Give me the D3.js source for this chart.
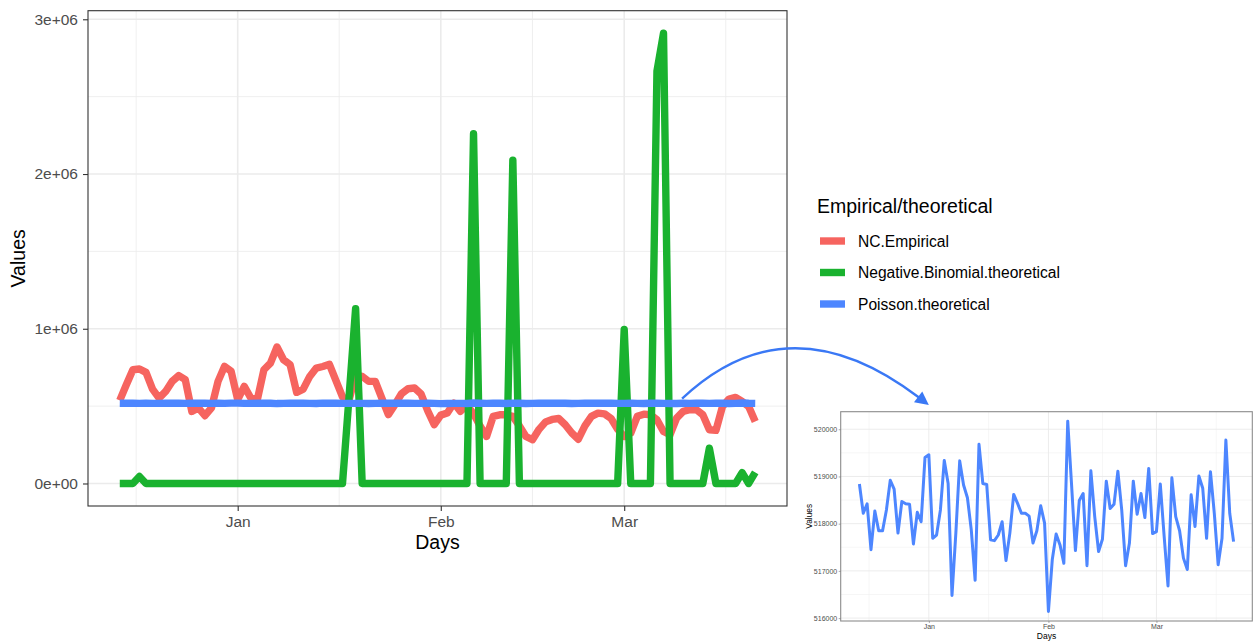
<!DOCTYPE html>
<html><head><meta charset="utf-8">
<script src="https://cdn.jsdelivr.net/npm/d3@7"></script>
<style>
body{margin:0;background:#fff;}
svg{display:block;font-family:"Liberation Sans",Arial,Helvetica,sans-serif;}
</style>
</head><body>
<svg id="chart" width="1253" height="642"></svg>
<script>
// ---------------- DATA ----------------
const startDate = "2020-12-14";   // first day of the series (98 daily points, to 2021-03-21)
const seriesNames = ["NC.Empirical", "Negative.Binomial.theoretical", "Poisson.theoretical"];
const seriesColors = ["#F6645F", "#1AB22F", "#4D86FF"];
const legendTitle = "Empirical/theoretical";

const empirical = [
  537000, 638000, 735000, 740000, 718000, 610000, 552000, 595000, 660000, 697000,
  671000, 466000, 488000, 438000, 488000, 660000, 757000, 725000, 542000, 628000,
  552000, 542000, 735000, 778000, 882000, 800000, 768000, 589000, 610000, 692000,
  746000, 756000, 770000, 665000, 560000, 540000, 700000, 692000, 660000, 660000,
  552000, 445000, 509000, 580000, 612000, 617000, 578000, 470000, 380000, 442000,
  455000, 520000, 466000, 505000, 450000, 372000, 304000, 434000, 444000, 444000,
  434000, 372000, 304000, 283000, 350000, 398000, 414000, 420000, 380000, 326000,
  286000, 372000, 434000, 455000, 450000, 420000, 350000, 304000, 326000, 434000,
  448000, 444000, 412000, 336000, 315000, 423000, 466000, 477000, 477000, 444000,
  347000, 343000, 498000, 546000, 556000, 530000, 498000, 401000
];
const negBinomial = [
  0, 0, 0, 45000, 0, 0, 0, 0, 0, 0,
  0, 0, 0, 0, 0, 0, 0, 0, 0, 0,
  0, 0, 0, 0, 0, 0, 0, 0, 0, 0,
  0, 0, 0, 0, 0, 560000, 1130000, 0, 0, 0,
  0, 0, 0, 0, 0, 0, 0, 0, 0, 0,
  0, 0, 0, 0, 2260000, 0, 0, 0, 0, 0,
  2090000, 0, 0, 0, 0, 0, 0, 0, 0, 0,
  0, 0, 0, 0, 0, 0, 0, 995000, 0, 0,
  0, 0, 2665000, 2910000, 0, 0, 0, 0, 0, 0,
  228000, 0, 0, 0, 0, 70000, 0, 72000
];
const poisson = [
  518840, 518220, 518420, 517450, 518270, 517850, 517850, 518290, 518920, 518730,
  517800, 518470, 518420, 518410, 517570, 518240, 518040, 519400, 519460, 517690,
  517760, 518290, 519340, 518850, 516480, 517800, 519330, 518820, 518550, 517870,
  516800, 519680, 518850, 518830, 517660, 517640, 517760, 518040, 517220, 517800,
  518620, 518430, 518220, 518220, 518160, 517590, 517850, 518380, 518010, 516140,
  517240, 517780, 517550, 517160, 520170, 518820, 517430, 518490, 518640, 517110,
  519120, 518150, 517410, 517670, 518900, 518320, 518410, 519110, 518290, 517110,
  517590, 518900, 518200, 518640, 518130, 519170, 517790, 517830, 518840, 517730,
  516680, 518970, 518150, 517850, 517270, 517030, 518610, 517940, 519010, 518750,
  517690, 519100, 518220, 517130, 517690, 519770, 518220, 517620
];

const monthTicks = ["2021-01-01", "2021-02-01", "2021-03-01"];
const monthTickLabels = ["Jan", "Feb", "Mar"];
const mainYTicks = [0, 1000000, 2000000, 3000000];
const mainYTickLabels = ["0e+00", "1e+06", "2e+06", "3e+06"];
const insetYTicks = [516000, 517000, 518000, 519000, 520000];
const insetYTickLabels = ["516000", "517000", "518000", "519000", "520000"];

// ---------------- SETUP ----------------
const parse = d3.utcParse("%Y-%m-%d");
const d0 = parse(startDate);
const dates = d3.utcDay.range(d0, d3.utcDay.offset(d0, empirical.length));
const tickDates = monthTicks.map(parse);
// ggplot-style minor breaks: midpoints between month boundaries
const monthBounds = d3.utcMonth.range(parse("2020-12-01"), parse("2021-04-02"));
const minorDates = d3.pairs(monthBounds).map(([a, b]) => new Date((+a + +b) / 2));

function expand(ext, f = 0.05) { const r = ext[1] - ext[0]; return [ext[0] - r * f, ext[1] + r * f]; }

const svg = d3.select("#chart");
svg.append("rect").attr("width", 1253).attr("height", 642).attr("fill", "#fff");

const M = { left: 88, right: 787, top: 10.7, bottom: 506 };
const timeExt = expand([+dates[0], +dates[dates.length - 1]]);
const xMain = d3.scaleUtc().domain(timeExt.map(t => new Date(t))).range([M.left, M.right]);
const allVals = empirical.concat(negBinomial, poisson);
const yMain = d3.scaleLinear().domain(expand(d3.extent(allVals))).range([M.bottom, M.top]);

const series = [empirical, negBinomial, poisson];

// ---------------- MAIN PANEL ----------------
const gMain = svg.append("g");
gMain.append("rect").attr("x", M.left).attr("y", M.top)
  .attr("width", M.right - M.left).attr("height", M.bottom - M.top).attr("fill", "#fff");

const yMinor = d3.range(0.5e6, 3.5e6, 1e6).filter(v => v > yMain.domain()[0] && v < yMain.domain()[1]);
const gridG = gMain.append("g");
gridG.selectAll(".ymin").data(yMinor).join("line")
  .attr("x1", M.left).attr("x2", M.right).attr("y1", d => yMain(d)).attr("y2", d => yMain(d))
  .attr("stroke", "#EBEBEB").attr("stroke-width", 0.8);
gridG.selectAll(".xmin").data(minorDates.filter(d => d > xMain.domain()[0] && d < xMain.domain()[1])).join("line")
  .attr("y1", M.top).attr("y2", M.bottom).attr("x1", d => xMain(d)).attr("x2", d => xMain(d))
  .attr("stroke", "#EBEBEB").attr("stroke-width", 0.8);
gridG.selectAll(".ymaj").data(mainYTicks).join("line")
  .attr("x1", M.left).attr("x2", M.right).attr("y1", d => yMain(d)).attr("y2", d => yMain(d))
  .attr("stroke", "#EBEBEB").attr("stroke-width", 1.6);
gridG.selectAll(".xmaj").data(tickDates).join("line")
  .attr("y1", M.top).attr("y2", M.bottom).attr("x1", d => xMain(d)).attr("x2", d => xMain(d))
  .attr("stroke", "#EBEBEB").attr("stroke-width", 1.6);

svg.append("clipPath").attr("id", "clipMain").append("rect")
  .attr("x", M.left).attr("y", M.top).attr("width", M.right - M.left).attr("height", M.bottom - M.top);

const lineMain = d3.line().x((d, i) => xMain(dates[i])).y(d => yMain(d));
gMain.append("g").attr("clip-path", "url(#clipMain)")
  .selectAll("path").data(series).join("path")
  .attr("d", d => lineMain(d))
  .attr("fill", "none")
  .attr("stroke", (d, i) => seriesColors[i])
  .attr("stroke-width", 7.4)
  .attr("stroke-linejoin", "round")
  .attr("stroke-linecap", "butt");

gMain.append("rect").attr("x", M.left).attr("y", M.top)
  .attr("width", M.right - M.left).attr("height", M.bottom - M.top)
  .attr("fill", "none").attr("stroke", "#333333").attr("stroke-width", 1.1);

// axes
const yAxis = d3.axisLeft(yMain).tickValues(mainYTicks)
  .tickFormat((d, i) => mainYTickLabels[i]).tickSize(5).tickPadding(5);
const gy = gMain.append("g").attr("transform", `translate(${M.left},0)`).call(yAxis);
const xAxis = d3.axisBottom(xMain).tickValues(tickDates)
  .tickFormat((d, i) => monthTickLabels[i]).tickSize(5).tickPadding(5);
const gx = gMain.append("g").attr("transform", `translate(0,${M.bottom})`).call(xAxis);
[gy, gx].forEach(g => {
  g.select(".domain").remove();
  g.selectAll(".tick line").attr("stroke", "#333333").attr("stroke-width", 1.1);
  g.selectAll(".tick text").attr("fill", "#4D4D4D").style("font-size", "15.5px")
    .style("font-family", '"Liberation Sans", Arial, sans-serif');
});

svg.append("text").attr("x", (M.left + M.right) / 2).attr("y", 549)
  .attr("text-anchor", "middle").style("font-size", "19.5px").attr("fill", "#000").text("Days");
svg.append("text").attr("transform", `translate(25,${(M.top + M.bottom) / 2}) rotate(-90)`)
  .attr("text-anchor", "middle").style("font-size", "19.5px").attr("fill", "#000").text("Values");

// ---------------- LEGEND ----------------
const lg = svg.append("g");
lg.append("text").attr("x", 817).attr("y", 213).style("font-size", "19.5px").attr("fill", "#000").text(legendTitle);
const keyY = [241, 272.5, 304];
seriesNames.forEach((name, i) => {
  lg.append("line").attr("x1", 820).attr("x2", 845).attr("y1", keyY[i]).attr("y2", keyY[i])
    .attr("stroke", seriesColors[i]).attr("stroke-width", 7.4);
  lg.append("text").attr("x", 858).attr("y", keyY[i] + 5.5).style("font-size", "15.6px")
    .attr("fill", "#000").text(name);
});

// ---------------- INSET ----------------
const I = { left: 840.7, right: 1252.3, top: 411.7, bottom: 621 };
const xIn = d3.scaleUtc().domain(timeExt.map(t => new Date(t))).range([I.left, I.right]);
const yIn = d3.scaleLinear().domain(expand(d3.extent(poisson))).range([I.bottom, I.top]);
const gIn = svg.append("g");
gIn.append("rect").attr("x", I.left).attr("y", I.top).attr("width", I.right - I.left)
  .attr("height", I.bottom - I.top).attr("fill", "#fff");
const inMinorY = d3.range(515500, 521000, 1000).filter(v => v > yIn.domain()[0] && v < yIn.domain()[1]);
gIn.selectAll(".iymin").data(inMinorY).join("line")
  .attr("x1", I.left).attr("x2", I.right).attr("y1", d => yIn(d)).attr("y2", d => yIn(d))
  .attr("stroke", "#F0F0F0").attr("stroke-width", 0.6);
gIn.selectAll(".ixmin").data(minorDates.filter(d => d > xIn.domain()[0] && d < xIn.domain()[1])).join("line")
  .attr("y1", I.top).attr("y2", I.bottom).attr("x1", d => xIn(d)).attr("x2", d => xIn(d))
  .attr("stroke", "#F0F0F0").attr("stroke-width", 0.6);
gIn.selectAll(".iymaj").data(insetYTicks).join("line")
  .attr("x1", I.left).attr("x2", I.right).attr("y1", d => yIn(d)).attr("y2", d => yIn(d))
  .attr("stroke", "#EAEAEA").attr("stroke-width", 0.9);
gIn.selectAll(".ixmaj").data(tickDates).join("line")
  .attr("y1", I.top).attr("y2", I.bottom).attr("x1", d => xIn(d)).attr("x2", d => xIn(d))
  .attr("stroke", "#EAEAEA").attr("stroke-width", 0.9);

const lineIn = d3.line().x((d, i) => xIn(dates[i])).y(d => yIn(d));
gIn.append("path").attr("d", lineIn(poisson)).attr("fill", "none")
  .attr("stroke", seriesColors[2]).attr("stroke-width", 3).attr("stroke-linejoin", "round");

gIn.append("rect").attr("x", I.left).attr("y", I.top).attr("width", I.right - I.left)
  .attr("height", I.bottom - I.top).attr("fill", "none").attr("stroke", "#8C8C8C").attr("stroke-width", 1.1);

const iyAxis = d3.axisLeft(yIn).tickValues(insetYTicks).tickFormat((d, i) => insetYTickLabels[i])
  .tickSize(2).tickPadding(1.5);
const igy = gIn.append("g").attr("transform", `translate(${I.left},0)`).call(iyAxis);
const ixAxis = d3.axisBottom(xIn).tickValues(tickDates).tickFormat((d, i) => monthTickLabels[i])
  .tickSize(2).tickPadding(1.5);
const igx = gIn.append("g").attr("transform", `translate(0,${I.bottom})`).call(ixAxis);
[igy, igx].forEach(g => {
  g.select(".domain").remove();
  g.selectAll(".tick line").attr("stroke", "#777").attr("stroke-width", 0.6);
  g.selectAll(".tick text").attr("fill", "#4D4D4D").style("font-size", "7px")
    .style("font-family", '"Liberation Sans", Arial, sans-serif');
});
svg.append("text").attr("x", (I.left + I.right) / 2).attr("y", 638.5)
  .attr("text-anchor", "middle").style("font-size", "8.5px").attr("fill", "#000").text("Days");
svg.append("text").attr("transform", `translate(812,${(I.top + I.bottom) / 2}) rotate(-90)`)
  .attr("text-anchor", "middle").style("font-size", "8.3px").attr("fill", "#000").text("Values");

// ---------------- ARROW (annotation anchored to both plots) ----------------
const arrowStart = [xMain(d3.utcHour.offset(dates[85], 20)), yMain(548000)];
const arrowEnd = [xIn(tickDates[0]), I.top - 6.7];
const ctrl = [789, 298];
const dir = [arrowEnd[0] - ctrl[0], arrowEnd[1] - ctrl[1]];
const len = Math.hypot(dir[0], dir[1]);
const u = [dir[0] / len, dir[1] / len];
const headL = 13.5, headW = 6.8;
const base = [arrowEnd[0] - u[0] * headL, arrowEnd[1] - u[1] * headL];
const arrowColor = "#3A78F5";
const pth = d3.path();
pth.moveTo(arrowStart[0], arrowStart[1]);
pth.quadraticCurveTo(ctrl[0], ctrl[1], base[0] + u[0] * 2, base[1] + u[1] * 2);
svg.append("path").attr("d", pth.toString()).attr("fill", "none")
  .attr("stroke", arrowColor).attr("stroke-width", 2.4);
svg.append("polygon").attr("points", [
  arrowEnd,
  [base[0] - u[1] * headW, base[1] + u[0] * headW],
  [base[0] + u[1] * headW, base[1] - u[0] * headW]
].map(p => p.join(",")).join(" ")).attr("fill", arrowColor);
</script>
</body></html>
